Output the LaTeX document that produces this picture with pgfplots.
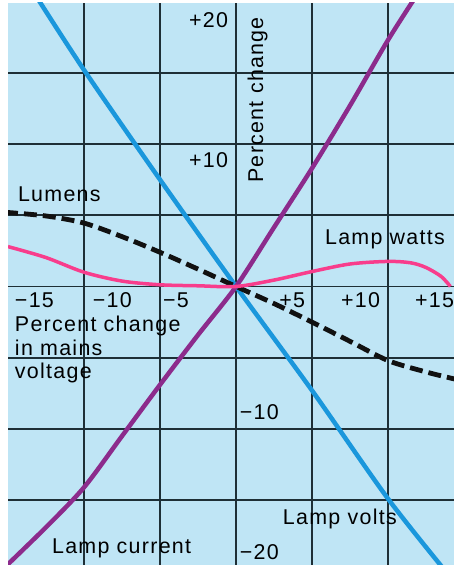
\documentclass[border=0pt]{standalone}
\usepackage{fontspec}
\setmainfont{Liberation Sans}[LetterSpace=6]
\usepackage{pgfplots}
\pgfplotsset{compat=1.18}
\definecolor{bgc}{HTML}{BFE5F5}
\definecolor{gridc}{HTML}{1E2F36}
\definecolor{voltsc}{HTML}{1A97DC}
\definecolor{currc}{HTML}{8C2B8C}
\definecolor{wattsc}{HTML}{F83D8C}
\definecolor{lumc}{HTML}{111111}
\tikzset{lbl/.style={inner sep=0pt, outer sep=0pt, font=\fontsize{21.5}{24}\selectfont}}
\begin{document}
\begin{tikzpicture}
\begin{axis}[
  scale only axis, width=446bp, height=562bp,
  xmin=-15, xmax=14.34, ymin=-19.55, ymax=19.9,
  axis line style={draw=none},
  xtick={-10,-5,0,5,10}, ytick={-15,-10,-5,0,5,10,15},
  xticklabels={}, yticklabels={},
  major tick length=0pt,
  grid=major,
  major grid style={line width=1.6bp, color=gridc},
  axis background/.style={fill=bgc},
]
\coordinate (sw) at (rel axis cs:0,0);
\coordinate (ne) at (rel axis cs:1,1);
% Lamp volts
\addplot[voltsc, line width=4.5bp, smooth] coordinates {
 (-13.4,20.8) (-10,15.2) (-5,7.5) (0,0) (5,-7.3) (10,-14.9) (14.1,-20.4)};
% Lamp current
\addplot[currc, line width=4.5bp, smooth] coordinates {
 (-15.3,-19.8) (-12.5,-16.9) (-10,-14.1) (-7.5,-10.5) (-5,-6.9) (-2.5,-3.4) (0,0) (2.5,4.15) (5,8.3) (7.5,12.7) (10,17.3) (12.1,20.8)};
% Lumens
\addplot[lumc, line width=4.8bp, smooth, dash pattern=on 13bp off 6bp] coordinates {
 (-15.2,5.21) (-12.5,4.95) (-10,4.45) (-7.5,3.5) (-5,2.4) (-2.5,1.22) (0,0) (2.5,-1.2) (5,-2.5) (7.5,-3.85) (10,-5.2) (12.5,-6.0) (14.4,-6.5)};
% Lamp watts
\addplot[wattsc, line width=3.5bp, smooth] coordinates {
 (-15,2.8) (-12.5,2.03) (-10,1.0) (-7.5,0.38) (-5,0.12) (-2.5,0.05) (0,0) (2.5,0.45) (5,1.05) (7.5,1.58) (10,1.76) (11.5,1.66) (12.5,1.33) (13.5,0.7) (14.1,0)};
% tick labels
\node[lbl, anchor=base west] at (axis cs:-14.54,-1.47) {−15};
\node[lbl, anchor=base west] at (axis cs:-9.41,-1.47) {−10};
\node[lbl, anchor=base west] at (axis cs:-4.8,-1.47) {−5};
\node[lbl, anchor=base east] at (axis cs:4.54,-1.47) {+5};
\node[lbl, anchor=base east] at (axis cs:9.47,-1.47) {+10};
\node[lbl, anchor=base east] at (axis cs:14.34,-1.47) {+15};
\node[lbl, anchor=base east] at (axis cs:-0.53,18.2) {+20};
\node[lbl, anchor=base east] at (axis cs:-0.53,8.34) {+10};
\node[lbl, anchor=base west] at (axis cs:0.26,-9.32) {−10};
\node[lbl, anchor=base west] at (axis cs:0.26,-19.13) {−20};
% titles
\node[lbl, anchor=base west, rotate=90] at (axis cs:1.78,7.29) {Percent change};
\node[lbl, anchor=base west] at (axis cs:-14.34,5.96) {Lumens};
\node[lbl, anchor=base west] at (axis cs:5.86,2.94) {Lamp watts};
\node[lbl, anchor=base west] at (axis cs:-14.54,-3.15) {Percent change};
\node[lbl, anchor=base west] at (axis cs:-14.54,-4.84) {in mains};
\node[lbl, anchor=base west] at (axis cs:-14.54,-6.45) {voltage};
\node[lbl, anchor=base west] at (axis cs:3.09,-16.68) {Lamp volts};
\node[lbl, anchor=base west] at (axis cs:-12.1,-18.71) {Lamp current};
\end{axis}
\pgfresetboundingbox
\path ([xshift=-8bp,yshift=-4bp]sw) rectangle ([yshift=3bp]ne);
\end{tikzpicture}
\end{document}
